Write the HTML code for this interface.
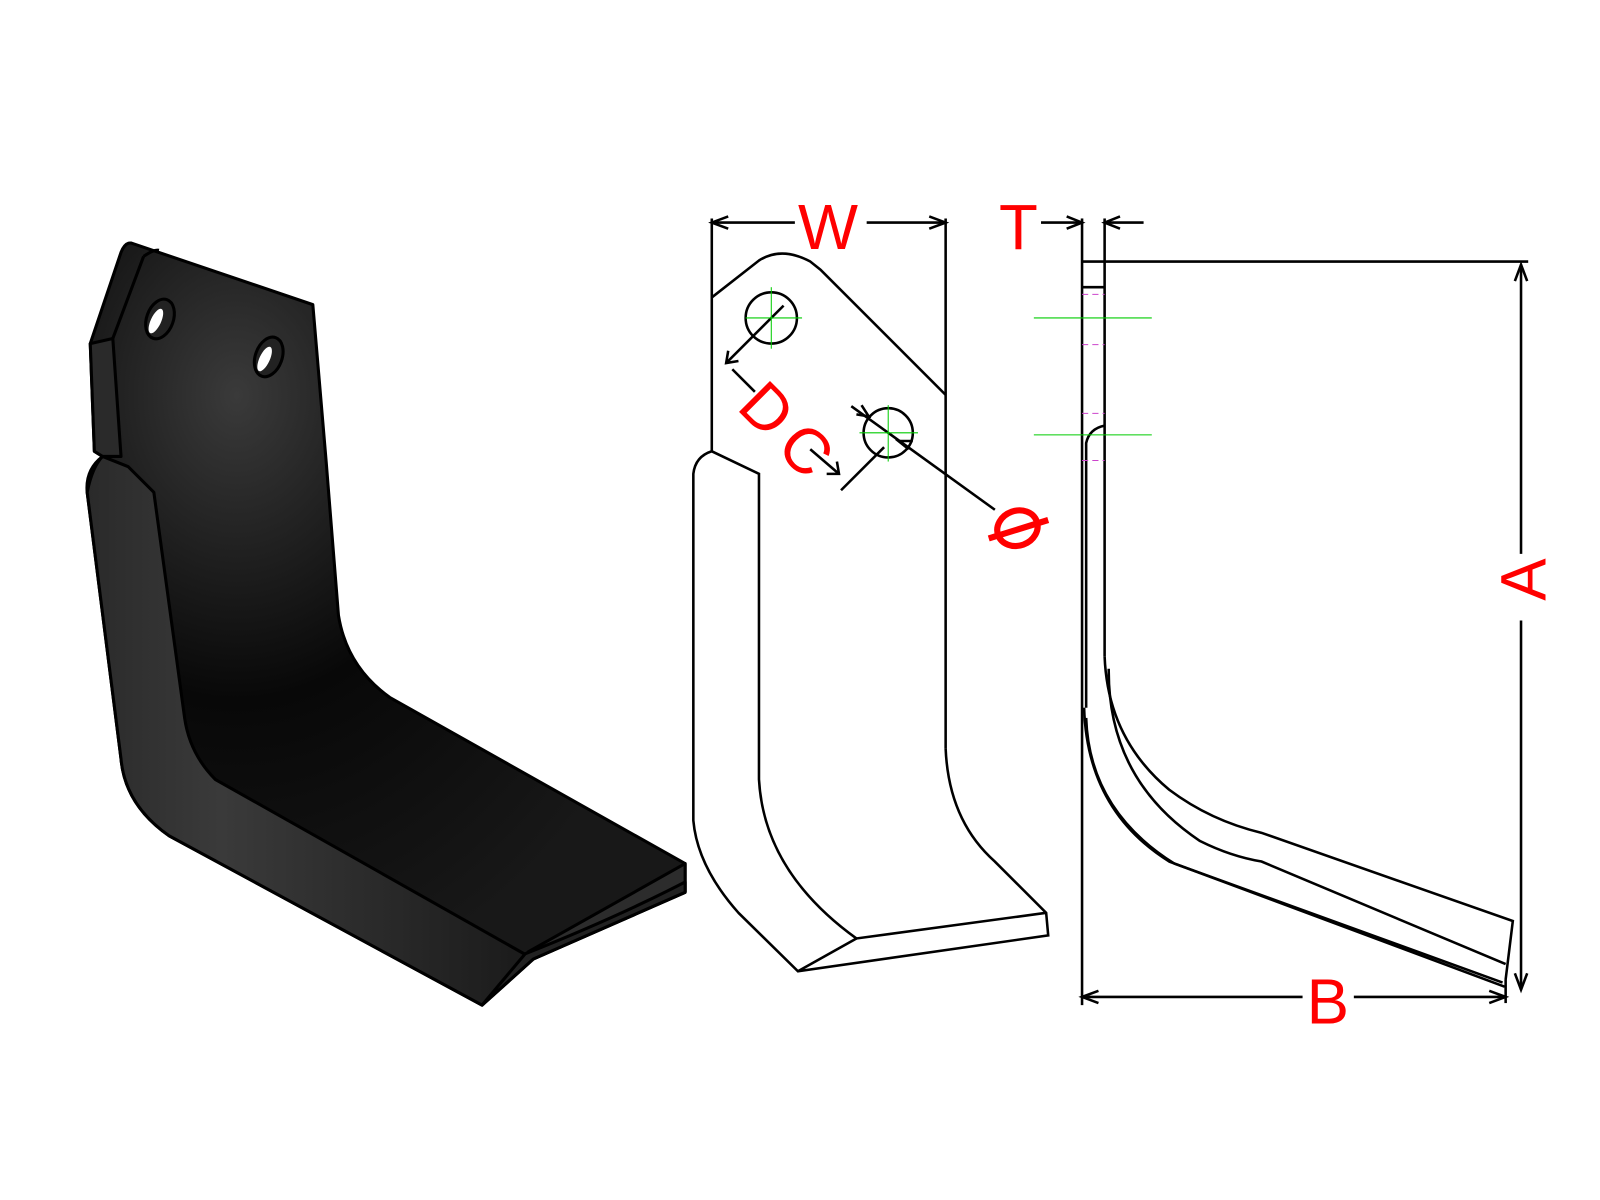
<!DOCTYPE html>
<html><head><meta charset="utf-8"><style>html,body{margin:0;padding:0;background:#fff}svg{display:block}</style></head><body>
<svg width="1600" height="1200" viewBox="0 0 1560 1170" preserveAspectRatio="none" xmlns="http://www.w3.org/2000/svg">
<defs>
<radialGradient id="g1" cx="0.25" cy="0.2" r="0.8"><stop offset="0" stop-color="#3a3a3a"/><stop offset="0.5" stop-color="#080808"/><stop offset="1" stop-color="#181818"/></radialGradient>
<linearGradient id="g3" x1="0" y1="0" x2="1" y2="0"><stop offset="0" stop-color="#2a2a2a"/><stop offset="0.3" stop-color="#3a3a3a"/><stop offset="1" stop-color="#1a1a1a"/></linearGradient>
</defs>
<g stroke="#000" stroke-width="3" stroke-linejoin="round">
<path d="M128,237 L305,297 L318,450 L330,600 Q338,650 380,680 L668,842 L668,870 Q600,900 520,935 L470,980 L165,815 Q122,785 118,740 L85,480 Q83,458 100,445 L92,440 L88,335 L118,246 Q122,236 128,237 Z" fill="url(#g1)"/>
<path d="M88,335 L110,330 L118,445 L100,445 L92,440 Z" fill="#2a2a2a"/>
<path d="M100,445 Q90,455 85,480 L118,740 Q122,785 165,815 L470,980 L520,935 L210,760 Q185,735 180,700 L150,480 L125,455 Z" fill="url(#g3)"/>
<path d="M520,935 Q600,900 668,870 L668,842 L515,928 Z" fill="#2c2c2c"/>
<path d="M470,980 L520,935 Q600,900 668,870 L668,860 Q600,895 512,930 Z" fill="#222"/>
<path d="M140,250 Q150,243 155,244 M140,250 L110,330" fill="none"/>
<ellipse cx="156" cy="311" rx="13" ry="20" transform="rotate(20 156 311)" fill="#222"/>
<ellipse cx="152" cy="313" rx="5" ry="13" transform="rotate(25 152 313)" fill="#fff" stroke="none"/>
<ellipse cx="262" cy="348" rx="13" ry="20" transform="rotate(20 262 348)" fill="#222"/>
<ellipse cx="258" cy="350" rx="5" ry="13" transform="rotate(25 258 350)" fill="#fff" stroke="none"/>
</g>
<g fill="none" stroke="#000" stroke-width="2.5">
<path d="M694,290 L740,254 Q762,240 790,255 L800,263 L922,385"/>
<line x1="694" y1="213" x2="694" y2="440"/>
<line x1="922" y1="213" x2="922" y2="730"/>
<path d="M922,730 Q925,800 970,840 L1020,890 L1022,912 L778,947 L720,890 Q680,845 676,800 L676,462 Q678,445 694,440 L740,462 L740,760 Q745,850 835,915 L1020,890"/>
<line x1="835" y1="915" x2="778" y2="947"/>
<circle cx="752" cy="310" r="25"/>
<circle cx="866" cy="422" r="24"/>
<line x1="764" y1="298" x2="708" y2="354"/>
<polyline points="720,352 708,354 710,342"/>
<line x1="714" y1="360" x2="736" y2="382"/>
<line x1="862" y1="436" x2="820" y2="478"/>
<line x1="790" y1="438" x2="818" y2="462"/>
<polyline points="806,462 818,462 816,450"/>
<line x1="830" y1="396" x2="970" y2="497"/>
<polyline points="835,404 847,406 840,395"/>
<polyline points="886,438 876,430 890,430"/>
<line x1="694" y1="217" x2="775" y2="217"/><line x1="845" y1="217" x2="922" y2="217"/>
<polyline points="710,211 694,217 710,223"/><polyline points="906,211 922,217 906,223"/>
<line x1="1055" y1="213" x2="1055" y2="255"/><line x1="1077" y1="213" x2="1077" y2="255"/>
<line x1="1015" y1="217" x2="1055" y2="217"/><line x1="1077" y1="217" x2="1115" y2="217"/>
<polyline points="1040,211 1055,217 1040,223"/><polyline points="1092,211 1077,217 1092,223"/>
<line x1="1055" y1="255" x2="1490" y2="255"/>
<line x1="1055" y1="255" x2="1055" y2="980"/>
<line x1="1077" y1="255" x2="1077" y2="640"/>
<line x1="1055" y1="280" x2="1077" y2="280"/>
<path d="M1077,415 Q1062,418 1059,432 L1059,690"/>
<path d="M1077,640 Q1080,720 1140,770 Q1180,800 1230,812 L1475,898 L1468,955"/>
<path d="M1081,652 Q1080,760 1170,820 Q1200,835 1230,840 L1468,940"/>
<path d="M1057,690 Q1060,790 1140,840 L1467,962"/>
<path d="M1059,700 Q1062,790 1145,842 L1465,958"/>
<line x1="1483" y1="258" x2="1483" y2="540"/><line x1="1483" y1="605" x2="1483" y2="965"/>
<polyline points="1477,274 1483,258 1489,274"/><polyline points="1477,949 1483,965 1489,949"/>
<line x1="1055" y1="972" x2="1270" y2="972"/><line x1="1320" y1="972" x2="1468" y2="972"/>
<line x1="1468" y1="955" x2="1468" y2="978"/>
<polyline points="1071,966 1055,972 1071,978"/><polyline points="1452,966 1468,972 1452,978"/>
</g>
<g stroke="#0c0" stroke-width="1">
<line x1="727" y1="310" x2="782" y2="310"/><line x1="752" y1="280" x2="752" y2="340"/>
<line x1="838" y1="422" x2="895" y2="422"/><line x1="866" y1="395" x2="866" y2="450"/>
<line x1="1008" y1="310" x2="1123" y2="310"/><line x1="1008" y1="424" x2="1123" y2="424"/>
</g>
<g stroke="#c4c" stroke-width="1" stroke-dasharray="6,4">
<line x1="1055" y1="287" x2="1077" y2="287"/><line x1="1055" y1="336" x2="1077" y2="336"/>
<line x1="1055" y1="403" x2="1077" y2="403"/><line x1="1055" y1="449" x2="1077" y2="449"/>
</g>
<g fill="#f00" font-family="Liberation Sans, sans-serif" font-size="62">
<text x="778" y="243">W</text>
<text x="974" y="243">T</text>
<text x="1274" y="998">B</text>
<text transform="translate(1507,565) rotate(-90)" text-anchor="middle">A</text>
<text transform="translate(717,398) rotate(45)">D</text>
<text transform="translate(755,438) rotate(45)">C</text>
</g>
<g fill="none" stroke="#f00" stroke-width="6">
<ellipse cx="992" cy="515" rx="20" ry="17" transform="rotate(-20 992 515)"/>
<line x1="964" y1="525" x2="1022" y2="507"/>
</g>
</svg>
</body></html>
